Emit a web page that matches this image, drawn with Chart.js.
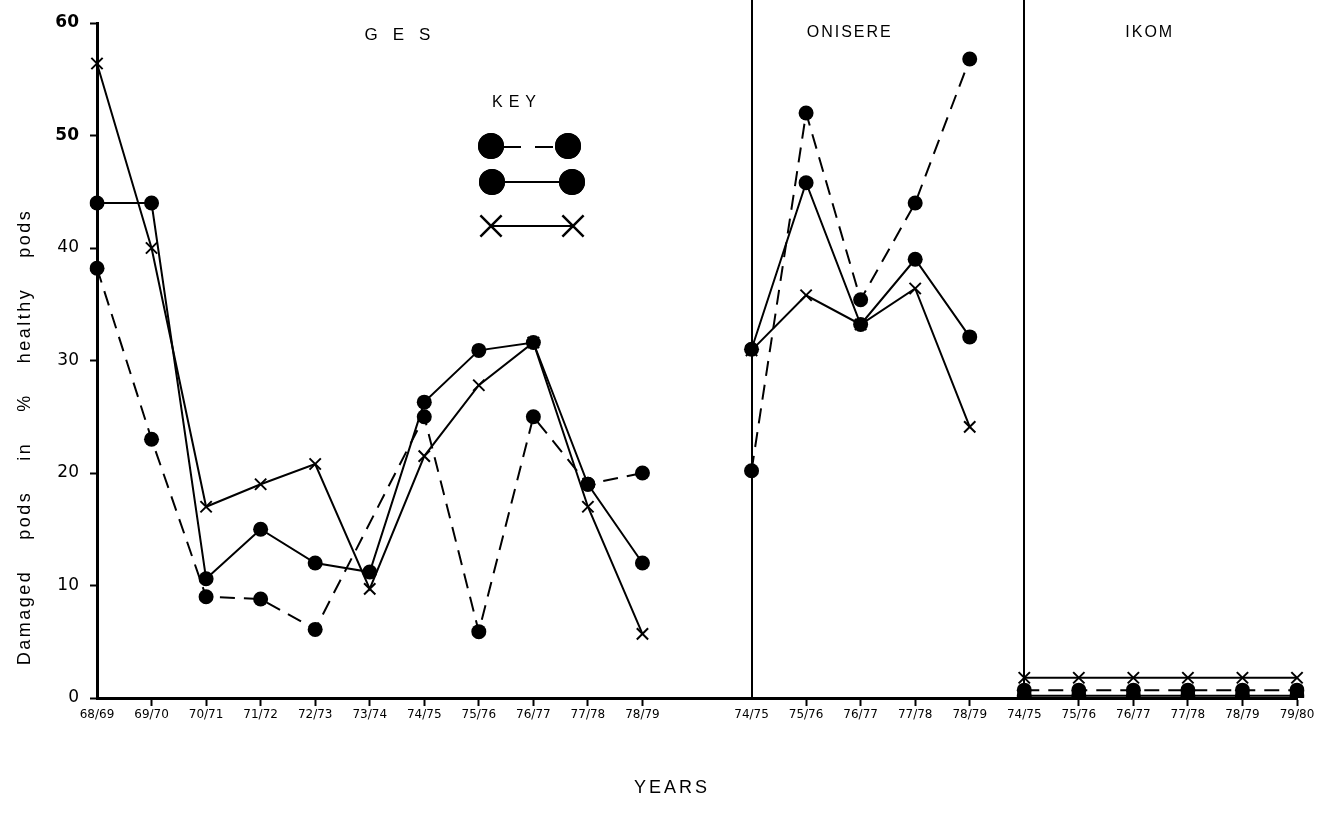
<!DOCTYPE html>
<html>
<head>
<meta charset="utf-8">
<script src="https://cdn.jsdelivr.net/npm/chart.js@4/dist/chart.umd.min.js"></script>
<style>
  html, body { margin: 0; padding: 0; background: #fff; }
  #wrap { width: 1342px; height: 823px; }
</style>
</head>
<body>
<div id="wrap"><canvas id="c"></canvas></div>
<script>
// Seasons per site
const gesYears  = ['68/69', '69/70', '70/71', '71/72', '72/73', '73/74', '74/75', '75/76', '76/77', '77/78', '78/79'];
const oniYears  = ['74/75', '75/76', '76/77', '77/78', '78/79'];
const ikomYears = ['74/75', '75/76', '76/77', '77/78', '78/79', '79/80'];

// Damaged pods in % of healthy pods — G E S
const gesDashed = [38.2, 23, 9, 8.8, 6.1, null, 25, 5.9, 25, 19, 20];
const gesSolid  = [44, 44, 10.6, 15, 12, 11.2, 26.3, 30.9, 31.6, 19, 12];
const gesCross  = [56.4, 40, 17, 19, 20.8, 9.7, 21.5, 27.8, 31.6, 17, 5.7];

// ONISERE
const oniDashed = [20.2, 52, 35.4, 44, 56.8];
const oniSolid  = [31, 45.8, 33.2, 39, 32.1];
const oniCross  = [30.9, 35.8, 33.2, 36.4, 24.1];

// IKOM
const ikomDashed = [0.7, 0.7, 0.7, 0.7, 0.7, 0.7];
const ikomSolid  = [0.2, 0.2, 0.2, 0.2, 0.2, 0.2];
const ikomCross  = [1.8, 1.8, 1.8, 1.8, 1.8, 1.8];

const yTicks = [0, 10, 20, 30, 40, 50, 60];

// One shared category axis: GES, an empty slot, ONISERE, IKOM
const labels = [...gesYears, '', ...oniYears, ...ikomYears];
const gesStart = 0;
const oniStart = gesYears.length + 1;
const ikomStart = oniStart + oniYears.length;
// slots without a tick mark (site starts and the gap)
const noTick = new Set([gesStart, gesYears.length, oniStart, ikomStart]);

function place(values, start) {
  const arr = new Array(labels.length).fill(null);
  values.forEach((v, i) => { arr[start + i] = v; });
  return arr;
}

const styleDashed = {
  borderColor: '#000', backgroundColor: '#000', borderWidth: 2, borderDash: [15, 9],
  pointStyle: 'circle', pointRadius: 7.5, pointBorderWidth: 0, pointBackgroundColor: '#000'
};
const styleSolid = {
  borderColor: '#000', backgroundColor: '#000', borderWidth: 2,
  pointStyle: 'circle', pointRadius: 7.5, pointBorderWidth: 0, pointBackgroundColor: '#000'
};
const styleCross = {
  borderColor: '#000', backgroundColor: '#000', borderWidth: 2,
  pointStyle: 'crossRot', pointRadius: 8, pointBorderWidth: 2, pointBorderColor: '#000'
};

const datasets = [
  { label: 'GES dashed', data: place(gesDashed, gesStart), spanGaps: true, ...styleDashed },
  { label: 'GES solid',  data: place(gesSolid,  gesStart), ...styleSolid },
  { label: 'GES cross',  data: place(gesCross,  gesStart), ...styleCross },
  { label: 'ONISERE dashed', data: place(oniDashed, oniStart), ...styleDashed },
  { label: 'ONISERE solid',  data: place(oniSolid,  oniStart), ...styleSolid },
  { label: 'ONISERE cross',  data: place(oniCross,  oniStart), ...styleCross },
  { label: 'IKOM solid',  data: place(ikomSolid,  ikomStart), ...styleSolid },
  { label: 'IKOM dashed', data: place(ikomDashed, ikomStart), ...styleDashed },
  { label: 'IKOM cross',  data: place(ikomCross,  ikomStart), ...styleCross }
];

// Site separators, site names, key and axis titles
const annotations = {
  id: 'annotations',
  afterDraw(chart) {
    const { ctx, chartArea } = chart;
    const xs = chart.scales.x;
    ctx.save();
    ctx.strokeStyle = '#000';
    ctx.fillStyle = '#000';

    // vertical separators between sites
    ctx.lineWidth = 2;
    [oniStart, ikomStart].forEach(i => {
      const px = Math.round(xs.getPixelForValue(i));
      ctx.beginPath();
      ctx.moveTo(px, 0);
      ctx.lineTo(px, chartArea.bottom);
      ctx.stroke();
    });

    // site names
    ctx.textAlign = 'center';
    ctx.textBaseline = 'middle';
    ctx.font = '17px "Liberation Sans", Arial, sans-serif';
    ctx.letterSpacing = '15px';
    ctx.fillText('GES', xs.getPixelForValue(5.5) + 8, 35);
    ctx.font = '16px "Liberation Sans", Arial, sans-serif';
    ctx.letterSpacing = '2px';
    ctx.fillText('ONISERE', xs.getPixelForValue(13.8), 33);
    ctx.fillText('IKOM', xs.getPixelForValue(19.3), 33);

    // key
    ctx.font = '16px "Liberation Sans", Arial, sans-serif';
    ctx.letterSpacing = '6px';
    ctx.fillText('KEY', 517, 103);
    ctx.letterSpacing = '0px';
    const k1 = 491, k2 = 568;
    // dashed row
    ctx.lineWidth = 2;
    ctx.setLineDash([18, 14]);
    ctx.beginPath(); ctx.moveTo(k1 + 12, 147); ctx.lineTo(k2 - 12, 147); ctx.stroke();
    ctx.setLineDash([]);
    Chart.helpers.drawPoint(ctx, { pointStyle: 'circle', radius: 13, rotation: 0, borderWidth: 0 }, k1, 146); ctx.fill();
    Chart.helpers.drawPoint(ctx, { pointStyle: 'circle', radius: 13, rotation: 0, borderWidth: 0 }, k2, 146); ctx.fill();
    // solid row
    ctx.beginPath(); ctx.moveTo(k1, 182); ctx.lineTo(k2 + 4, 182); ctx.stroke();
    Chart.helpers.drawPoint(ctx, { pointStyle: 'circle', radius: 13, rotation: 0, borderWidth: 0 }, k1 + 1, 182); ctx.fill();
    Chart.helpers.drawPoint(ctx, { pointStyle: 'circle', radius: 13, rotation: 0, borderWidth: 0 }, k2 + 4, 182); ctx.fill();
    // cross row
    ctx.beginPath(); ctx.moveTo(k1, 226); ctx.lineTo(k2 + 5, 226); ctx.stroke();
    ctx.lineWidth = 2.5;
    Chart.helpers.drawPoint(ctx, { pointStyle: 'crossRot', radius: 15, rotation: 0, borderWidth: 2.5 }, k1, 226);
    Chart.helpers.drawPoint(ctx, { pointStyle: 'crossRot', radius: 15, rotation: 0, borderWidth: 2.5 }, k2 + 5, 226);

    // y axis title
    ctx.save();
    ctx.translate(25, 437);
    ctx.rotate(-Math.PI / 2);
    ctx.font = '18px "Liberation Sans", Arial, sans-serif';
    ctx.letterSpacing = '2.5px';
    ctx.fillText('Damaged    pods    in    %    healthy    pods', 0, 0);
    ctx.restore();

    // x axis title
    ctx.font = '18px "Liberation Sans", Arial, sans-serif';
    ctx.letterSpacing = '3px';
    ctx.fillText('YEARS', 672, 788);
    ctx.restore();
  }
};

new Chart(document.getElementById('c'), {
  type: 'line',
  data: { labels, datasets },
  options: {
    responsive: true,
    maintainAspectRatio: false,
    animation: false,
    layout: { padding: { left: 0, top: 23, right: 45, bottom: 0 } },
    plugins: { legend: { display: false }, tooltip: { enabled: false } },
    elements: { line: { tension: 0 } },
    scales: {
      x: {
        type: 'category',
        offset: false,
        grid: {
          drawOnChartArea: false,
          drawTicks: true,
          tickLength: 8,
          tickWidth: 2,
          tickColor: ctx => noTick.has(ctx.index) ? 'rgba(0,0,0,0)' : '#000'
        },
        border: { display: true, color: '#000', width: 3 },
        ticks: {
          autoSkip: false, maxRotation: 0, minRotation: 0, padding: 2,
          color: '#000',
          font: { family: '"DejaVu Sans", sans-serif', size: 12 }
        },
        afterFit(scale) { scale.height = 125; }
      },
      y: {
        min: yTicks[0],
        max: yTicks[yTicks.length - 1],
        afterBuildTicks(scale) { scale.ticks = yTicks.map(v => ({ value: v })); },
        grid: { drawOnChartArea: false, drawTicks: true, tickLength: 7, tickWidth: 2, color: '#000' },
        border: { display: true, color: '#000', width: 3 },
        ticks: {
          padding: 11,
          color: '#000',
          font: ctx => ({
            family: '"DejaVu Sans", sans-serif',
            size: 17,
            weight: (ctx.tick && ctx.tick.value >= 50) ? 'bold' : 'normal'
          })
        },
        afterFit(scale) { scale.width = 97; }
      }
    }
  },
  plugins: [annotations]
});
</script>
</body>
</html>
